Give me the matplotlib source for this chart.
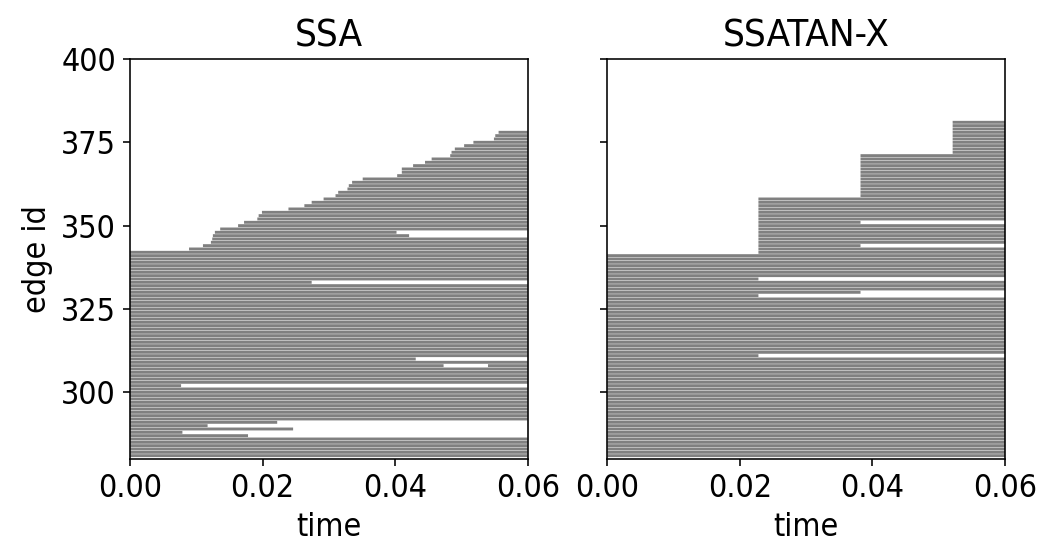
import numpy as np
import matplotlib.pyplot as plt

plt.rcParams['font.family'] = ['DejaVu Sans']
plt.rcParams['font.stretch'] = 'condensed'
plt.rcParams['font.size'] = 16

t_end = 0.06

# SSA: edges 281..378, staircase of start times for 343..378
ssa_ids = np.arange(281, 379)
ssa_step_ids = np.arange(343, 379)
ssa_step_start = [0.0089, 0.0110, 0.0122, 0.0124, 0.0125, 0.0128, 0.0136, 0.0163,
                  0.0172, 0.0192, 0.0194, 0.0199, 0.0239, 0.0263, 0.0274, 0.0292,
                  0.0310, 0.0314, 0.0328, 0.0330, 0.0335, 0.0351, 0.0403, 0.0410,
                  0.0410, 0.0427, 0.0445, 0.0455, 0.0483, 0.0485, 0.0490, 0.0504,
                  0.0518, 0.0549, 0.0551, 0.0556]
ssa_cut_ids = [287, 288, 289, 290, 291, 302, 310, 333, 347, 348]
ssa_cut_end = [0.0178, 0.0079, 0.0246, 0.0117, 0.0222, 0.0077, 0.0431, 0.0274, 0.0421, 0.0402]
ssa_hole_ids = [308]
ssa_hole_from = [0.0473]
ssa_hole_to = [0.0540]

# SSATAN-X: edges 281..381 in 4 blocks
tan_ids = np.arange(281, 382)
tan_block_top = [341, 358, 371, 381]
tan_block_start = [0.0, 0.0228, 0.0382, 0.0521]
tan_cut_ids = [311, 329, 330, 334, 344, 351]
tan_cut_end = [0.0228, 0.0228, 0.0382, 0.0228, 0.0382, 0.0382]


def segments(ids, start, end, holes):
    ys, x0, x1 = [], [], []
    for e in ids:
        a = start.get(e, 0.0)
        b = end.get(e, t_end)
        if e in holes:
            h0, h1 = holes[e]
            ys += [e, e]
            x0 += [a, h1]
            x1 += [h0, b]
        else:
            ys.append(e)
            x0.append(a)
            x1.append(b)
    return ys, x0, x1


ssa_seg = segments(ssa_ids,
                   dict(zip(ssa_step_ids, ssa_step_start)),
                   dict(zip(ssa_cut_ids, ssa_cut_end)),
                   {e: (a, b) for e, a, b in zip(ssa_hole_ids, ssa_hole_from, ssa_hole_to)})

tan_start = {}
lo = tan_ids[0]
for top, s in zip(tan_block_top, tan_block_start):
    for e in range(lo, top + 1):
        tan_start[e] = s
    lo = top + 1
tan_seg = segments(tan_ids, tan_start, dict(zip(tan_cut_ids, tan_cut_end)), {})

fig, axs = plt.subplots(1, 2, sharey=True, figsize=(1042 / 144, 551 / 144), dpi=144)
fig.subplots_adjust(left=0.1248, right=0.9645, bottom=0.167, top=0.893, wspace=0.2)

for ax, seg, title in zip(axs, [ssa_seg, tan_seg], ["SSA", "SSATAN-X"]):
    ax.hlines(*seg, color="gray", lw=1.45, snap=False)
    ax.set_xlim(0, t_end)
    ax.set_xticks([0, 0.02, 0.04, 0.06])
    ax.set_title(title)
    ax.set_xlabel("time")

axs[0].set_ylim(280, 400)
axs[0].set_yticks([300, 325, 350, 375, 400])
axs[0].set_ylabel("edge id")

fig.savefig("out.png", dpi=144)
